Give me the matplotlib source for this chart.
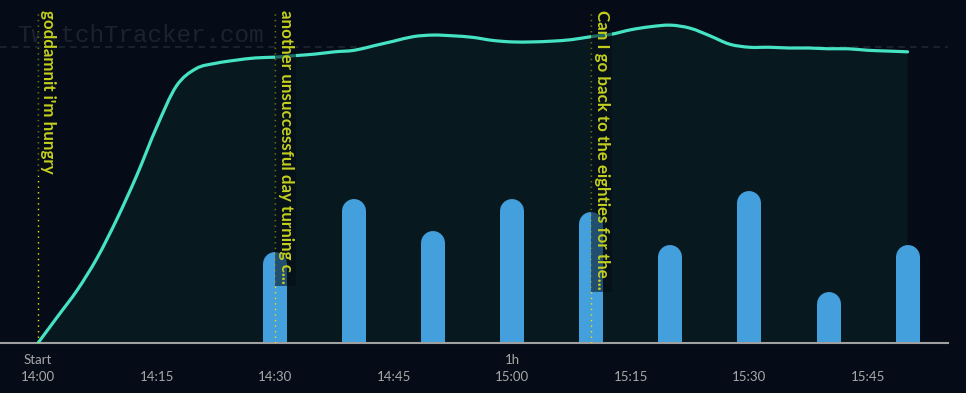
import numpy as np
import matplotlib
matplotlib.use('Agg')
import matplotlib.pyplot as plt
from matplotlib.path import Path
from matplotlib.patches import PathPatch

# ============== data ===================
# minutes since stream start (14:00)
view_t = np.arange(0, 110.1, 2.5)
viewers = [0.0, 3.5, 7.0, 11.2, 16.3, 22.0, 28.3, 33.7, 36.0, 36.7,
           37.1, 37.4, 37.5, 37.7, 37.9, 38.2, 38.4, 39.0, 39.6, 40.2,
           40.4, 40.3, 40.1, 39.7, 39.5, 39.5, 39.6, 39.8, 40.2, 40.5,
           41.1, 41.5, 41.7, 41.3, 40.3, 39.2, 38.8, 38.8, 38.7, 38.7,
           38.6, 38.6, 38.4, 38.3, 38.2]
avg_viewers = 38.8

bar_t = [30, 40, 50, 60, 70, 80, 90, 100, 110]
bar_val = [11.9, 18.9, 14.7, 18.9, 17.2, 12.8, 19.9, 6.7, 12.8]

events_t = [0, 30, 70]
events_txt = ["goddamnit i'm hungry",
              "another unsuccessful day turning c...",
              "Can I go back to the eighties for the..."]

tick_t = [0, 15, 30, 45, 60, 75, 90, 105]
tick_lbl = ['Start\n14:00', '\n14:15', '\n14:30', '\n14:45',
            '1h\n15:00', '\n15:15', '\n15:30', '\n15:45']

# ============== style ===================
bg = '#060c17'
ymax = 45.0


def spline_path(x, y, closed_to=None):
    # smooth bezier path through the points (catmull-rom style)
    x = np.asarray(x, float)
    y = np.asarray(y, float)
    verts = [(x[0], y[0])]
    codes = [Path.MOVETO]
    n = len(x)
    for i in range(n - 1):
        i0 = max(i - 1, 0)
        i3 = min(i + 2, n - 1)
        c1 = (x[i] + (x[i+1] - x[i0]) / 6, y[i] + (y[i+1] - y[i0]) / 6)
        c2 = (x[i+1] - (x[i3] - x[i]) / 6, y[i+1] - (y[i3] - y[i]) / 6)
        verts += [c1, c2, (x[i+1], y[i+1])]
        codes += [Path.CURVE4] * 3
    if closed_to is not None:
        verts += [(x[-1], closed_to), (x[0], closed_to), (x[0], y[0])]
        codes += [Path.LINETO, Path.LINETO, Path.CLOSEPOLY]
    return Path(verts, codes)


fig = plt.figure(figsize=(9.66, 3.93), dpi=100, facecolor=bg)
ax = fig.add_axes([0, 50/393, 948/966, 343/393])
ax.set_facecolor(bg)

px_per_min = 7.905
ax.set_xlim(-38/px_per_min, 910/px_per_min)
ax.set_ylim(0, ymax)

# watermark
ax.text(-21/px_per_min, ymax*(343-35)/343, 'TwitchTracker.com',
        family='Liberation Mono', fontsize=17.5, color='#1c232d',
        va='center', ha='left', zorder=0)

# average line
ax.axhline(avg_viewers, color='#1c2730', lw=1.2, ls=(0, (4, 3)), zorder=1)

# viewers area + line
ax.add_patch(PathPatch(spline_path(view_t, viewers, closed_to=0),
                       fc='#07181e', ec='none', zorder=1))
ax.add_patch(PathPatch(spline_path(view_t, viewers), fc='none',
                       ec='#45e2c3', lw=2.3, capstyle='round', zorder=4))

# bars with rounded tops
r = 12 * ymax / 343
ax.vlines(bar_t, 0, np.array(bar_val) - r, colors='#449fdd',
          linewidth=17.3, capstyle='round', zorder=2)

# events
for t, s in zip(events_t, events_txt):
    ax.vlines(t, 0, ymax*(343-10)/343, colors='#e8e800', lw=1,
              linestyles=(0, (1, 3)), zorder=5)
    ax.text(t + 0.3, ymax*(343-10)/343, s, rotation=270, ha='left', va='top',
            family='Lato', fontweight='bold', fontsize=12.2, color='#c4cf1e',
            zorder=6,
            bbox=dict(boxstyle='square,pad=0.15', fc=bg, ec='none', alpha=0.55))

# axes
for sp in ['top', 'right', 'left']:
    ax.spines[sp].set_visible(False)
ax.spines['bottom'].set_color('#a0a0a0')
ax.spines['bottom'].set_linewidth(1.5)
ax.set_yticks([])
ax.set_xticks(tick_t)
ax.set_xticklabels(tick_lbl, family='Lato', fontsize=9.5, color='#a8a8a8',
                   linespacing=1.45)
ax.tick_params(axis='x', length=0, pad=8)

fig.savefig('out.png', dpi=100, facecolor=bg)
